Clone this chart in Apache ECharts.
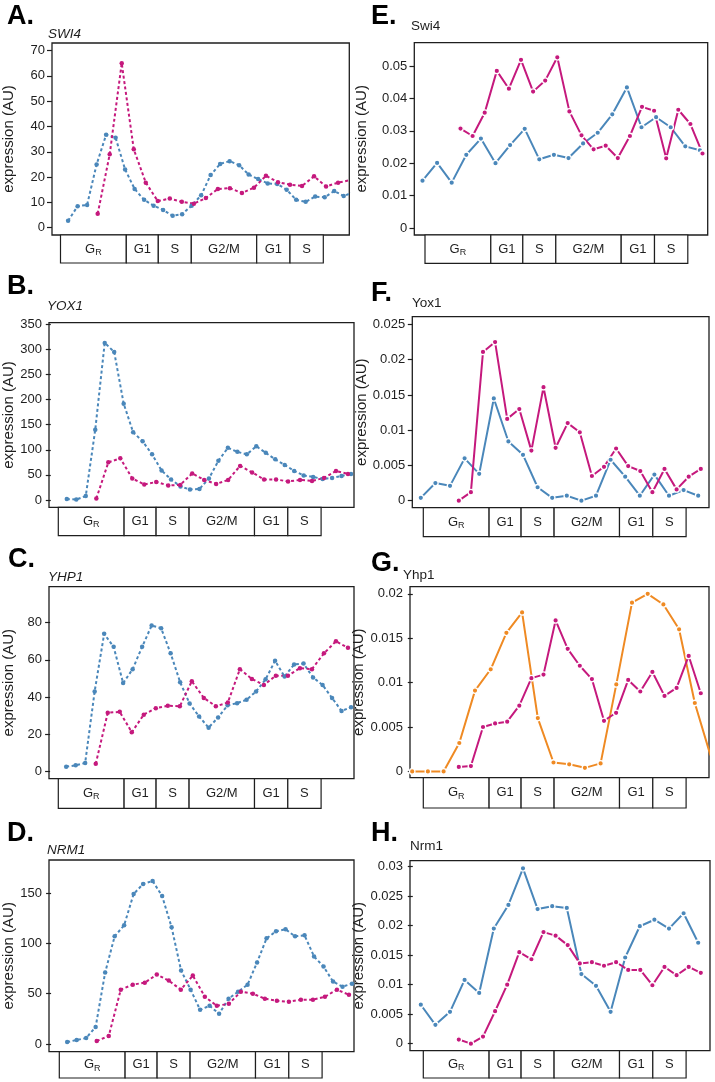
<!DOCTYPE html>
<html>
<head>
<meta charset="utf-8">
<script src="https://cdn.jsdelivr.net/npm/echarts@6/dist/echarts.min.js"></script>
<style>
  html, body { margin: 0; padding: 0; background: #fff; }
  #main { width: 715px; height: 1082px; }
</style>
</head>
<body>
<div id="main"></div>
<script>
// cell cycle phases shown under every panel (time axis units, no labels on it)
const phaseNames = ['G_R', 'G1', 'S', 'G2/M', 'G1', 'S'];
const phaseEdges = [10.5, 76.3, 108.3, 141.3, 206.7, 240, 273.3];

// sampling of each series along the time axis
const tBlueLeft = { start: 16.2, step: 9.567 };
const tBlueRight = { start: 8, step: 14.6 };
const tPink = { start: 46, step: 12.1 };
const tOrange = { start: -0.6, step: 15.7 };

// A. SWI4
const swi4Blue = [2.7, 8.5, 9, 25, 36.7, 35.5, 23, 15.3, 11, 8.7, 7, 4.7, 5.3, 8.7, 12.8, 20.8, 25.2, 26.3, 24.7, 21, 19.2, 17.5, 17.3, 15, 11, 10.2, 12.3, 12, 14.5, 12.5, 14];
const swi4Pink = [5.5, 29, 65, 31, 17.8, 10.5, 11.5, 10.2, 9.5, 11.7, 15.3, 15.6, 13.7, 15.8, 20.5, 18, 17, 16.5, 20.3, 16.3, 17.8, 18.8];
// B. YOX1
const yox1Blue = [2, 1, 8, 140, 313, 295, 192, 135, 117, 91, 59, 41, 27, 21, 22, 43, 78, 104, 96, 91, 107, 94, 81, 70, 58, 49, 46, 42, 44, 48, 52];
const yox1Pink = [3, 75, 83, 43, 31, 36, 29, 30, 53, 40, 32, 40, 68, 55, 41, 41, 37, 40, 38, 44, 58, 52];
// C. YHP1
const yhp1Blue = [2.5, 3.2, 4.5, 43, 74, 67, 47.5, 55, 67, 78.5, 77, 63.5, 48, 36.5, 29.5, 23.5, 29, 35.5, 36.7, 38.5, 43, 49.5, 59.5, 51, 57.5, 58, 50.5, 46.5, 39.5, 32.5, 34.5];
const yhp1Pink = [4, 31.5, 32, 21, 30.5, 34, 35.3, 35, 48.5, 39.5, 35, 37, 55, 49.7, 46.5, 51.5, 51.5, 55.5, 55, 63.5, 70, 66.5];
// D. NRM1
const nrm1Blue = [2, 4, 6, 17, 71, 107, 118, 149, 159, 162, 147, 116, 73, 54, 34, 38, 30, 45, 52, 59, 81, 105, 112, 114, 107, 108, 87, 77, 62, 57, 60];
const nrm1Pink = [3, 8, 54, 59, 61, 69, 63, 54, 68, 47, 38, 40, 52, 50, 45, 43, 42, 44, 44, 47, 54, 49];
// E. Swi4
const swi4pBlue = [0.0146, 0.0201, 0.014, 0.0226, 0.0276, 0.02, 0.0256, 0.0306, 0.0212, 0.0226, 0.0216, 0.0261, 0.0294, 0.0351, 0.0434, 0.0311, 0.0342, 0.0311, 0.0252, 0.024];
const swi4pPink = [0.0307, 0.0284, 0.0356, 0.0485, 0.043, 0.0519, 0.0421, 0.0455, 0.0527, 0.036, 0.0286, 0.0243, 0.0254, 0.0216, 0.0284, 0.0374, 0.0362, 0.0215, 0.0365, 0.0321, 0.023];
// F. Yox1
const yox1pBlue = [0.0004, 0.0025, 0.0021, 0.006, 0.0038, 0.0145, 0.0084, 0.0065, 0.0019, 0.0004, 0.0007, 0, 0.0007, 0.0058, 0.0034, 0.0007, 0.0037, 0.0007, 0.0015, 0.0007];
const yox1pPink = [0, 0.0012, 0.0211, 0.0225, 0.0116, 0.013, 0.0071, 0.0161, 0.0075, 0.011, 0.0097, 0.0035, 0.0048, 0.0074, 0.0049, 0.0042, 0.0012, 0.0045, 0.0016, 0.0034, 0.0045];
// G. Yhp1
const yhp1pOrange = [0, 0, 0, 0.0032, 0.0091, 0.0115, 0.0156, 0.0179, 0.006, 0.001, 0.0008, 0.0004, 0.0009, 0.0098, 0.019, 0.02, 0.0188, 0.016, 0.0077, 0.0018];
const yhp1pPink = [0.0005, 0.0006, 0.005, 0.0054, 0.0056, 0.0074, 0.0105, 0.0109, 0.017, 0.0138, 0.0119, 0.0104, 0.0057, 0.0066, 0.0103, 0.009, 0.0112, 0.0085, 0.0094, 0.013, 0.0088];
// H. Nrm1
const nrm1pBlue = [0.0066, 0.0032, 0.0054, 0.0108, 0.0086, 0.0195, 0.0235, 0.0297, 0.0228, 0.0233, 0.023, 0.0118, 0.0098, 0.0054, 0.0146, 0.0199, 0.021, 0.0195, 0.0221, 0.0171];
const nrm1pPink = [0.0007, 0, 0.0012, 0.0055, 0.01, 0.0155, 0.0143, 0.0189, 0.0183, 0.0167, 0.0136, 0.0138, 0.0132, 0.0138, 0.0125, 0.0125, 0.0099, 0.013, 0.0116, 0.013, 0.012];

// y tick labels
const ticksA = [0, 10, 20, 30, 40, 50, 60, 70];
const ticksB = [0, 50, 100, 150, 200, 250, 300, 350];
const ticksC = [0, 20, 40, 60, 80];
const ticksD = [0, 50, 100, 150];
const ticksE = [0, 0.01, 0.02, 0.03, 0.04, 0.05];
const ticksF = [0, 0.005, 0.01, 0.015, 0.02, 0.025];
const ticksG = [0, 0.005, 0.01, 0.015, 0.02];
const ticksH = [0, 0.005, 0.01, 0.015, 0.02, 0.025, 0.03];

const BLUE = '#4a87ba', PINK = '#c5197d', ORANGE = '#ef8a23', INK = '#1e1e1e';
const FONT = '"Liberation Sans", Arial, Helvetica, sans-serif';

function pts(vals, t) { return vals.map((v, i) => [t.start + i * t.step, v]); }

// layout per panel
const panels = [
  { letter: 'A.', gene: 'SWI4', italic: true, lx: 7, ly: 3, gx: 48, gy: 27,
    left: 50, top: 43, width: 299.3, height: 192, ph: 28, x: [0, 299.3], y: [-2.9, 73], ticks: ticksA, gap: 36,
    lines: [[swi4Blue, tBlueLeft, BLUE], [swi4Pink, tPink, PINK]], dotted: true },
  { letter: 'B.', gene: 'YOX1', italic: true, lx: 7, ly: 273, gx: 47, gy: 299.5,
    left: 46, top: 322.7, width: 308, height: 184.6, ph: 28.4, x: [-1.8, 306.2], y: [-14.5, 353.2], ticks: ticksB, gap: 33,
    lines: [[yox1Blue, tBlueLeft, BLUE], [yox1Pink, tPink, PINK]], dotted: true },
  { letter: 'C.', gene: 'YHP1', italic: true, lx: 8, ly: 546, gx: 48, gy: 570.5,
    left: 46.7, top: 586.7, width: 307.3, height: 192, ph: 29.6, x: [-1.1, 306.2], y: [-4, 99.4], ticks: ticksC, gap: 33,
    lines: [[yhp1Blue, tBlueLeft, BLUE], [yhp1Pink, tPink, PINK]], dotted: true },
  { letter: 'D.', gene: 'NRM1', italic: true, lx: 7, ly: 820, gx: 47, gy: 843,
    left: 46.7, top: 860, width: 307.3, height: 191.7, ph: 26.3, x: [-2.1, 305.2], y: [-7.6, 182.8], ticks: ticksD, gap: 33,
    lines: [[nrm1Blue, tBlueLeft, BLUE], [nrm1Pink, tPink, PINK]], dotted: true },
  { letter: 'E.', gene: 'Swi4', italic: false, lx: 371, ly: 3, gx: 411, gy: 19.5,
    left: 414.3, top: 42.7, width: 293.4, height: 192.3, ph: 28.3, x: [-0.2, 293.2], y: [-0.00216, 0.0572], ticks: ticksE, gap: 45,
    lines: [[swi4pBlue, tBlueRight, BLUE], [swi4pPink, tPink, PINK]], dotted: false },
  { letter: 'F.', gene: 'Yox1', italic: false, lx: 371, ly: 280, gx: 412, gy: 296,
    left: 412.3, top: 316.7, width: 296.7, height: 191, ph: 29, x: [-0.5, 296.2], y: [-0.001, 0.0261], ticks: ticksF, gap: 43,
    lines: [[yox1pBlue, tBlueRight, BLUE], [yox1pPink, tPink, PINK]], dotted: false },
  { letter: 'G.', gene: 'Yhp1', italic: false, lx: 371, ly: 550, gx: 403, gy: 568,
    left: 410, top: 586.7, width: 299, height: 191, ph: 30.3, x: [-2.8, 296.2], y: [-0.00071, 0.0208], ticks: ticksG, gap: 41,
    lines: [[yhp1pOrange, tOrange, ORANGE], [yhp1pPink, tPink, PINK]], dotted: false },
  { letter: 'H.', gene: 'Nrm1', italic: false, lx: 371, ly: 820, gx: 410, gy: 839.5,
    left: 410, top: 860.7, width: 300, height: 190, ph: 27.3, x: [-2.8, 297.2], y: [-0.00119, 0.031], ticks: ticksH, gap: 41,
    lines: [[nrm1pBlue, tBlueRight, BLUE], [nrm1pPink, tPink, PINK]], dotted: false }
];

const phaseData = phaseNames.map((n, i) => [phaseEdges[i], phaseEdges[i + 1]]);

function fmt(v) { return v === 0 ? '0' : String(+v.toFixed(4)); }

const grid = [], xAxis = [], yAxis = [], series = [], title = [];

panels.forEach((p, k) => {
  const gi = k * 2;
  grid.push({ left: p.left, top: p.top, width: p.width, height: p.height,
    show: true, borderColor: INK, borderWidth: 1.3, backgroundColor: 'transparent' });
  grid.push({ left: p.left, top: p.top + p.height, width: p.width, height: p.ph, show: false });

  xAxis.push({ type: 'value', gridIndex: gi, min: p.x[0], max: p.x[1], show: false });
  xAxis.push({ type: 'value', gridIndex: gi + 1, min: p.x[0], max: p.x[1], show: false });

  yAxis.push({
    type: 'value', gridIndex: gi, min: p.y[0], max: p.y[1],
    name: 'expression (AU)', nameLocation: 'middle', nameGap: p.gap,
    nameTextStyle: { fontSize: 15, color: INK, fontFamily: FONT },
    axisLine: { show: false },
    axisTick: { show: true, length: 5, customValues: p.ticks, lineStyle: { color: INK, width: 1.2 } },
    axisLabel: { customValues: p.ticks, formatter: fmt, fontSize: 13, color: INK, fontFamily: FONT, margin: 7 },
    splitLine: { show: false }
  });
  yAxis.push({ type: 'value', gridIndex: gi + 1, min: 0, max: 1, show: false });

  p.lines.forEach(([vals, t, color]) => {
    series.push({
      type: 'line', xAxisIndex: gi, yAxisIndex: gi, data: pts(vals, t),
      symbol: 'circle', symbolSize: p.dotted ? 4.5 : 5.5, showSymbol: true, clip: true,
      lineStyle: p.dotted ? { color: color, width: 2, type: [3, 2.5] } : { color: color, width: 2 },
      itemStyle: p.dotted ? { color: color } : { color: color, borderColor: '#fff', borderWidth: 1.3 },
      emphasis: { disabled: true }, z: 3
    });
  });

  series.push({
    type: 'custom', xAxisIndex: gi + 1, yAxisIndex: gi + 1, data: phaseData, silent: true,
    renderItem: function (params, api) {
      const a = api.coord([api.value(0), 1]);
      const b = api.coord([api.value(1), 0]);
      const name = phaseNames[params.dataIndex];
      const text = name === 'G_R' ? '{n|G}{s|R}' : '{n|' + name + '}';
      return {
        type: 'rect',
        shape: { x: a[0], y: a[1], width: b[0] - a[0], height: b[1] - a[1] },
        style: { fill: '#fff', stroke: INK, lineWidth: 1.2 },
        textContent: {
          style: {
            text: text, fill: INK, fontFamily: FONT,
            rich: {
              n: { fontSize: 13, fontFamily: FONT, color: INK, lineHeight: 16 },
              s: { fontSize: 9, fontFamily: FONT, color: INK, lineHeight: 16, verticalAlign: 'bottom', padding: [5, 0, 0, 0] }
            }
          }
        },
        textConfig: { position: 'inside' }
      };
    }
  });

  title.push({ text: p.letter, left: p.lx, top: p.ly, padding: 0,
    textStyle: { fontSize: 27, fontWeight: 'bold', color: '#000', fontFamily: FONT } });
  title.push({ text: p.gene, left: p.gx, top: p.gy, padding: 0,
    textStyle: { fontSize: 13.5, fontWeight: 'normal', fontStyle: p.italic ? 'italic' : 'normal', color: INK, fontFamily: FONT } });
});

const chart = echarts.init(document.getElementById('main'), null, { renderer: 'canvas' });
chart.setOption({
  animation: false,
  backgroundColor: '#fff',
  title: title,
  grid: grid,
  xAxis: xAxis,
  yAxis: yAxis,
  series: series
});
</script>
</body>
</html>
